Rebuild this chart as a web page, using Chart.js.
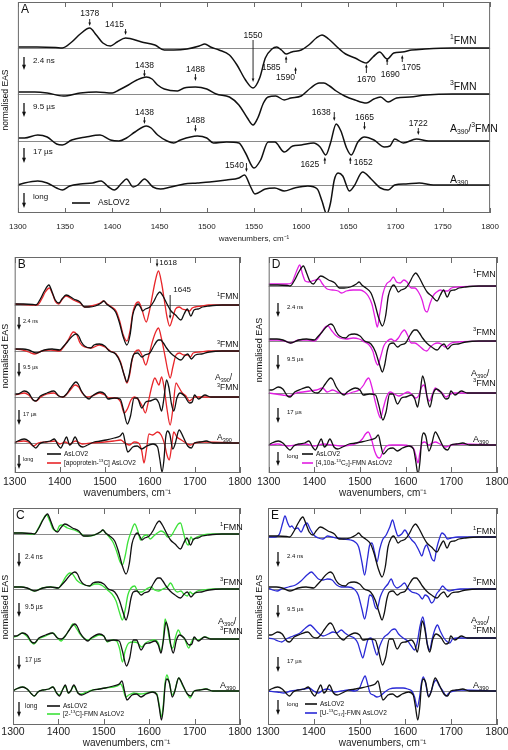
<!DOCTYPE html>
<html>
<head>
<meta charset="utf-8">
<script src="https://cdn.jsdelivr.net/npm/chart.js@4.4.1/dist/chart.umd.min.js"></script>
<style>
  html, body { margin: 0; padding: 0; background: #fff; width: 508px; height: 750px; overflow: hidden; }
  canvas { position: absolute; }
</style>
</head>
<body>
<canvas id="chartA" width="508" height="250" style="left:0;top:0"></canvas>
<canvas id="chartB" width="256" height="255" style="left:0;top:250px"></canvas>
<canvas id="chartD" width="262" height="255" style="left:254px;top:250px"></canvas>
<canvas id="chartC" width="256" height="248" style="left:0;top:502px"></canvas>
<canvas id="chartE" width="262" height="248" style="left:254px;top:502px"></canvas>
<script>
// wavenumber, amplitude pairs (amplitude in arbitrary EAS units)
const stateNames = [["^1", "FMN"], ["^3", "FMN"], ["A", "_390", "/", "^3", "FMN"], ["A", "_390"]];
const lifetimes = ["2.4 ns", "9.5 \u00b5s", "17 \u00b5s", "long"];

// AsLOV2 (black, all panels)
const aslovFmn1 = [[1300,1],[1320,1],[1340,0.5],[1347,0],[1357,6],[1366,14],[1376,20],[1383,13],[1390,5],[1398,2],[1405,6],[1414,10],[1431,6],[1445,3],[1455,-2],[1465,-2],[1479,-1],[1492,2],[1498,4],[1504,1],[1513,-2],[1524,-7],[1532,-17],[1541,-32],[1549,-40],[1556,-30],[1562,-10],[1569,-1],[1574,1],[1579,-2],[1584,-6],[1590,-4],[1600,-2],[1608,3],[1616,10],[1622,13],[1629,9],[1638,1],[1647,-6],[1657,-10],[1669,-15],[1676,-9],[1683,-4],[1691,-11],[1698,-5],[1707,-4],[1717,-2],[1731,-1],[1760,0],[1800,0]];
const aslovFmn3 = [[1300,2],[1318,2],[1331,1],[1348,-2],[1366,1],[1383,2],[1400,1],[1407,4],[1417,9],[1426,14],[1436,17],[1442,15],[1448,9],[1455,5],[1469,3],[1476,6],[1488,7],[1500,5],[1510,0],[1524,-3],[1534,-11],[1543,-24],[1549,-31],[1554,-24],[1560,-9],[1565,-3],[1573,-2],[1582,-6],[1589,-4],[1600,-2],[1610,6],[1619,11],[1624,11],[1630,8],[1637,3],[1646,-2],[1657,-6],[1669,-9],[1677,-5],[1684,-3],[1692,-8],[1701,-4],[1715,-3],[1732,-1],[1760,0],[1800,0]];
const aslovMixed = [[1300,3],[1307,3],[1321,6],[1331,4],[1341,-3],[1347,-4],[1357,1],[1372,4],[1387,6],[1398,1],[1407,0],[1415,3],[1424,9],[1436,15],[1441,13],[1448,6],[1458,0],[1465,-2],[1472,1],[1490,5],[1500,3],[1507,-2],[1521,-1],[1534,-2],[1541,-12],[1550,-27],[1557,-19],[1565,-1],[1572,-1],[1582,-11],[1591,-5],[1600,-4],[1613,-2],[1620,-6],[1626,-14],[1631,-2],[1637,17],[1642,10],[1648,-7],[1653,-14],[1660,-1],[1667,4],[1677,1],[1688,-6],[1694,-5],[1699,2],[1708,-2],[1722,2],[1735,0],[1800,0]];
const aslovA390 = [[1300,0],[1307,2],[1321,4],[1331,2],[1341,-3],[1347,-5],[1355,-1],[1366,1],[1379,2],[1388,4],[1396,-2],[1402,-5],[1410,2],[1415,6],[1422,-2],[1427,0],[1434,6],[1443,-2],[1451,-4],[1462,-2],[1476,1],[1490,2],[1503,3],[1521,5],[1534,7],[1540,10],[1546,-1],[1551,-9],[1562,-4],[1572,-3],[1582,-6],[1593,-3],[1607,-1],[1617,-4],[1622,-16],[1627,-29],[1631,-18],[1635,5],[1639,12],[1644,9],[1651,-6],[1656,-1],[1665,13],[1674,6],[1684,-3],[1692,-5],[1699,0],[1711,1],[1725,2],[1740,0],[1800,0]];

// [apoprotein-13C] AsLOV2 (red, panel B)
const apoFmn1 = [[1300,1],[1340,0],[1350,0],[1360,6],[1368,13],[1377,17],[1384,11],[1391,3],[1398,1],[1406,6],[1414,9],[1430,5],[1445,2],[1455,-2],[1470,-1],[1490,2],[1497,4],[1505,1],[1515,-2],[1525,-6],[1533,-16],[1541,-30],[1549,-36],[1556,-26],[1562,-8],[1570,2],[1575,3],[1582,-4],[1592,-17],[1598,-8],[1605,8],[1612,24],[1619,34],[1626,22],[1633,2],[1638,-12],[1644,-21],[1650,-14],[1657,-4],[1665,-2],[1672,-4],[1680,-5],[1688,-6],[1694,-3],[1700,-2],[1715,-1],[1730,0],[1800,0]];
const apoFmn3 = [[1300,2],[1318,1],[1331,-1],[1345,-3],[1360,0],[1380,1],[1400,0],[1410,5],[1420,12],[1430,19],[1437,17],[1445,8],[1455,4],[1470,3],[1488,6],[1500,4],[1512,0],[1525,-3],[1535,-11],[1543,-24],[1549,-32],[1555,-24],[1561,-8],[1567,-1],[1575,1],[1583,-5],[1591,-14],[1598,-4],[1606,10],[1614,20],[1619,23],[1626,12],[1634,-6],[1640,-20],[1645,-27],[1651,-16],[1658,-4],[1666,-2],[1675,-4],[1684,-4],[1690,-6],[1696,-2],[1710,-1],[1730,0],[1800,0]];
const apoMixed = [[1300,2],[1310,3],[1321,4],[1331,2],[1341,-3],[1348,-4],[1358,0],[1372,3],[1387,4],[1398,1],[1407,0],[1416,3],[1425,8],[1434,12],[1442,10],[1450,4],[1460,0],[1472,1],[1488,4],[1500,2],[1510,-1],[1525,-1],[1535,-5],[1543,-16],[1550,-12],[1558,-3],[1566,0],[1575,-3],[1584,-10],[1590,-16],[1596,-6],[1604,10],[1611,19],[1617,14],[1620,12],[1626,20],[1632,8],[1638,-12],[1645,-28],[1651,-12],[1658,14],[1664,10],[1672,4],[1680,1],[1688,-4],[1694,-2],[1700,0],[1800,0]];
const apoA390 = [[1300,1],[1320,2],[1330,1],[1342,-3],[1352,0],[1370,1],[1390,2],[1400,-1],[1412,1],[1422,-1],[1435,2],[1450,-1],[1470,0],[1500,1],[1520,2],[1535,3],[1545,0],[1555,-2],[1565,1],[1575,0],[1582,-8],[1587,-20],[1592,-8],[1598,9],[1606,8],[1617,11],[1625,8],[1633,-2],[1638,-12],[1643,-17],[1648,-4],[1653,11],[1660,6],[1670,3],[1680,0],[1690,-2],[1700,0],[1720,1],[1800,0]];

// [2-13C]-FMN AsLOV2 (green, panel C)
const c2Fmn1 = [[1300,1],[1320,1],[1340,0],[1347,0],[1356,6],[1365,14],[1374,19],[1381,13],[1388,5],[1396,3],[1402,8],[1408,9],[1420,6],[1435,4],[1448,1],[1458,-2],[1470,-2],[1485,0],[1493,2],[1498,4],[1504,1],[1512,-3],[1520,-8],[1528,-17],[1535,-27],[1541,-31],[1547,-22],[1553,-8],[1560,2],[1568,10],[1575,3],[1581,-6],[1588,-2],[1595,-1],[1602,-5],[1610,-2],[1618,1],[1626,3],[1634,1],[1640,-3],[1648,-2],[1656,4],[1664,10],[1669,11],[1675,2],[1681,-8],[1686,-11],[1692,-3],[1697,-6],[1705,-3],[1718,-1],[1740,0],[1800,0]];
const c2Fmn3 = [[1300,2],[1318,2],[1331,1],[1347,-2],[1365,1],[1383,2],[1400,1],[1407,5],[1416,12],[1425,16],[1431,15],[1440,9],[1448,6],[1458,4],[1470,3],[1480,5],[1488,5],[1498,3],[1508,-1],[1518,-5],[1527,-12],[1535,-24],[1541,-31],[1547,-21],[1553,-6],[1560,1],[1568,3],[1576,-3],[1584,-3],[1594,0],[1604,2],[1612,-1],[1620,-2],[1630,0],[1640,2],[1647,6],[1655,0],[1662,-3],[1670,-2],[1676,-5],[1684,-7],[1690,-3],[1696,-5],[1706,-2],[1720,-1],[1740,0],[1800,0]];
const c2Mixed = [[1300,2],[1310,3],[1320,6],[1330,3],[1340,-3],[1346,-5],[1356,0],[1372,3],[1388,6],[1398,1],[1406,-2],[1415,3],[1424,9],[1432,15],[1438,12],[1446,6],[1456,1],[1466,-1],[1475,1],[1490,4],[1500,3],[1508,-3],[1518,-1],[1528,-2],[1535,-10],[1541,-23],[1547,-12],[1555,-4],[1565,-3],[1575,-4],[1583,-8],[1592,-4],[1600,-2],[1612,-1],[1620,-4],[1626,-12],[1631,0],[1635,20],[1640,12],[1646,-4],[1652,-9],[1658,2],[1664,9],[1670,4],[1678,0],[1687,-9],[1693,-3],[1699,1],[1708,-1],[1722,2],[1740,0],[1800,0]];
const c2A390 = [[1300,0],[1307,2],[1321,4],[1331,2],[1341,-3],[1347,-5],[1355,-1],[1366,1],[1379,2],[1388,4],[1396,-2],[1402,-4],[1410,2],[1415,5],[1422,-2],[1427,0],[1434,5],[1443,-2],[1451,-3],[1462,-1],[1476,1],[1490,2],[1503,3],[1521,4],[1530,5],[1537,7],[1542,3],[1548,-6],[1555,-4],[1566,-2],[1580,-3],[1595,-2],[1607,-1],[1617,-3],[1622,-14],[1627,-26],[1631,-14],[1635,8],[1639,16],[1644,9],[1651,-4],[1656,0],[1665,13],[1674,5],[1684,-3],[1690,-7],[1697,-1],[1711,1],[1725,2],[1740,0],[1800,0]];

// [4,10a-13C2]-FMN AsLOV2 (magenta, panel D)
const c410Fmn1 = [[1300,2],[1320,2],[1340,2],[1350,3],[1357,10],[1363,17],[1368,21],[1374,12],[1380,5],[1388,4],[1395,5],[1402,6],[1410,7],[1418,2],[1428,-3],[1440,-4],[1452,-5],[1460,-7],[1470,-5],[1485,-4],[1500,-4],[1510,-6],[1518,-10],[1526,-18],[1533,-32],[1538,-41],[1543,-28],[1550,-8],[1558,2],[1566,5],[1573,9],[1580,4],[1588,3],[1596,6],[1603,4],[1612,-2],[1620,-2],[1628,-6],[1636,-14],[1642,-24],[1647,-26],[1653,-18],[1660,-10],[1668,-6],[1676,-4],[1684,-5],[1692,-5],[1700,-2],[1715,-1],[1800,0]];
const c410Fmn3 = [[1300,1],[1320,1],[1335,0],[1348,-2],[1365,1],[1385,1],[1400,0],[1408,3],[1416,9],[1424,14],[1430,15],[1437,11],[1446,6],[1456,3],[1470,2],[1485,3],[1498,2],[1510,-1],[1520,-4],[1528,-10],[1534,-20],[1539,-24],[1545,-16],[1552,-5],[1560,0],[1568,2],[1576,0],[1584,3],[1592,9],[1597,11],[1604,6],[1612,-2],[1620,-2],[1630,-5],[1640,-9],[1646,-10],[1654,-6],[1662,-3],[1670,-2],[1678,-3],[1686,-6],[1692,-5],[1700,-2],[1715,-1],[1800,0]];
const c410Mixed = [[1300,0],[1315,-1],[1330,-2],[1345,-3],[1360,0],[1375,1],[1390,2],[1405,3],[1418,5],[1428,1],[1440,3],[1455,0],[1470,-1],[1485,1],[1498,3],[1508,8],[1514,13],[1519,15],[1526,6],[1533,-8],[1540,-20],[1545,-25],[1551,-15],[1558,-4],[1566,1],[1575,-1],[1585,-3],[1595,-1],[1605,1],[1615,-2],[1622,-5],[1628,-3],[1635,6],[1640,8],[1646,-2],[1652,-8],[1658,-2],[1665,5],[1672,2],[1680,0],[1688,-4],[1695,-2],[1705,0],[1800,0]];
const c410A390 = [[1300,0],[1320,1],[1340,-1],[1360,0],[1380,1],[1400,-1],[1420,1],[1440,0],[1460,-1],[1480,0],[1495,2],[1505,6],[1512,11],[1518,13],[1525,6],[1532,-6],[1538,-12],[1543,-13],[1550,-7],[1558,-1],[1570,0],[1590,0],[1610,-1],[1618,-4],[1623,-12],[1627,-18],[1631,-8],[1636,2],[1642,3],[1650,0],[1658,2],[1665,3],[1675,1],[1688,-2],[1700,0],[1720,1],[1800,0]];

// [U-13C17]-FMN AsLOV2 (blue, panel E)
const uFmn1 = [[1300,0],[1315,0],[1325,3],[1332,14],[1337,21],[1343,14],[1348,10],[1352,11],[1358,8],[1365,9],[1372,5],[1380,12],[1385,14],[1392,8],[1400,2],[1410,-1],[1420,-2],[1430,1],[1440,0],[1450,-1],[1465,-2],[1480,-3],[1490,-5],[1498,-10],[1505,-25],[1511,-38],[1517,-22],[1522,-8],[1527,-6],[1533,-16],[1538,-25],[1544,-12],[1550,-3],[1558,2],[1566,10],[1572,17],[1578,8],[1584,1],[1592,3],[1599,7],[1606,2],[1614,-3],[1622,-7],[1630,-14],[1636,-19],[1641,-12],[1646,-8],[1652,-14],[1658,-22],[1663,-24],[1668,-12],[1674,-2],[1680,4],[1686,2],[1692,-2],[1700,-1],[1715,0],[1800,0]];
const uFmn3 = [[1300,1],[1310,-1],[1320,-2],[1330,0],[1345,2],[1360,4],[1372,8],[1385,14],[1395,17],[1402,14],[1410,10],[1420,9],[1430,10],[1440,9],[1450,4],[1460,2],[1475,2],[1488,0],[1497,-6],[1505,-20],[1511,-30],[1517,-18],[1522,-6],[1528,-8],[1534,-18],[1538,-20],[1545,-8],[1553,0],[1562,5],[1569,10],[1575,4],[1582,1],[1590,3],[1598,6],[1605,1],[1614,-3],[1622,-4],[1630,-6],[1637,-10],[1643,-6],[1650,-8],[1657,-14],[1662,-12],[1668,-5],[1675,-1],[1681,3],[1688,0],[1695,-2],[1705,-1],[1720,0],[1800,0]];
const uMixed = [[1300,0],[1312,-1],[1322,-3],[1330,-4],[1340,-1],[1355,2],[1370,5],[1382,10],[1392,13],[1400,10],[1410,5],[1420,2],[1432,4],[1442,6],[1450,5],[1460,8],[1468,5],[1478,2],[1488,0],[1496,-5],[1502,-14],[1507,-20],[1512,-12],[1518,-2],[1525,0],[1532,-10],[1538,-17],[1544,-8],[1552,0],[1562,4],[1570,8],[1577,9],[1585,4],[1595,0],[1605,-3],[1613,-8],[1620,-12],[1626,-4],[1632,12],[1638,21],[1643,10],[1648,-6],[1653,-12],[1658,-2],[1664,8],[1670,13],[1676,7],[1684,0],[1692,-4],[1697,-5],[1703,-1],[1715,0],[1800,0]];
const uA390 = [[1300,0],[1320,-1],[1335,-2],[1350,0],[1365,1],[1380,2],[1390,3],[1400,0],[1410,-2],[1420,1],[1430,2],[1445,-1],[1460,0],[1475,1],[1490,0],[1500,3],[1506,10],[1512,15],[1517,8],[1523,-2],[1530,-4],[1538,-6],[1545,-5],[1555,-1],[1565,2],[1580,3],[1595,3],[1605,2],[1614,0],[1620,-6],[1626,-16],[1631,-6],[1635,8],[1639,14],[1644,8],[1650,-5],[1655,-2],[1662,8],[1667,11],[1674,5],[1682,0],[1689,-5],[1695,-2],[1705,0],[1722,1],[1800,0]];

const aslovSet = [aslovFmn1, aslovFmn3, aslovMixed, aslovA390];

const FONT = "'Liberation Sans', Arial, sans-serif";

// page layout of the five panels
const panels = [
  {
    id: "chartA", letter: "A", canvasLeft: 0, canvasTop: 0, width: 508, height: 250,
    area: [13, 2, 497, 213], axisH: 35, step: 50, tickFont: 8, titleFont: 8, tickPad: 9, titlePadBottom: 4, tickLen: 5,
    baselines: [48, 94, 141, 185],
    series: [], seriesColor: null, legendLabel: null,
    stateLabel: { x: 450, dy: [-7, -7, -12, -5], size: 10.5, twoLine: false },
    yLabel: { x: 6, y: 100, size: 8.5 },
    times: { x: 24, tx: 33, size: 8, arrows: [[57, 70], [103, 117], [148, 163], [193, 208]] },
    legend: { x1: 72, x2: 90, tx: 98, ys: [203], size: 8.5 },
    notes: [
      { t: "1378", wn: 1376, dx: 0, ty: 14, y1: 19, y2: 26 },
      { t: "1415", wn: 1414, dx: -11, ty: 25, y1: 29, y2: 35 },
      { t: "1550", wn: 1549, dx: 0, ty: 36, y1: 40, y2: 82 },
      { t: "1585", wn: 1584, dx: -15, ty: 68, y1: 63, y2: 56 },
      { t: "1590", wn: 1594, dx: -10, ty: 78, y1: 74, y2: 67 },
      { t: "1670", wn: 1669, dx: 0, ty: 80, y1: 73, y2: 64 },
      { t: "1690", wn: 1691, dx: 3, ty: 75, y1: 65, y2: 58 },
      { t: "1705", wn: 1707, dx: 9, ty: 68, y1: 62, y2: 55 },
      { t: "1438", wn: 1434, dx: 0, ty: 66, y1: 70, y2: 77 },
      { t: "1488", wn: 1488, dx: 0, ty: 70, y1: 74, y2: 81 },
      { t: "1438", wn: 1434, dx: 0, ty: 113, y1: 117, y2: 124 },
      { t: "1488", wn: 1488, dx: 0, ty: 121, y1: 125, y2: 132 },
      { t: "1638", wn: 1635, dx: -13, ty: 113, y1: 112, y2: 121 },
      { t: "1665", wn: 1667, dx: 0, ty: 118, y1: 122, y2: 130 },
      { t: "1722", wn: 1724, dx: 0, ty: 124, y1: 128, y2: 135 },
      { t: "1540", wn: 1542, dx: -12, ty: 166, y1: 163, y2: 172 },
      { t: "1625", wn: 1625, dx: -15, ty: 165, y1: 164, y2: 157 },
      { t: "1652", wn: 1652, dx: 13, ty: 163, y1: 164, y2: 157 }
    ],
    noteSize: 8.5
  },
  {
    id: "chartB", letter: "B", canvasLeft: 0, canvasTop: 250, width: 256, height: 255,
    area: [13, 257, 240, 473], axisH: 30, step: 100, tickFont: 10.5, titleFont: 10, tickPad: 3, titlePadBottom: 4, tickLen: 6,
    baselines: [305, 351, 397, 443],
    series: [apoFmn1, apoFmn3, apoMixed, apoA390], seriesColor: "#e8262a",
    legendLabel: ["[apoprotein-", "^13", "C] AsLOV2"],
    stateLabel: { x: 217, dy: [-8, -6, -14, -5], size: 8.5, twoLine: true },
    yLabel: { x: 6, y: 356, size: 9 },
    times: { x: 19, tx: 23, size: 5.5, arrows: [[317, 330], [363, 377], [410, 425], [455, 469]] },
    legend: { x1: 47, x2: 61, tx: 64, ys: [454, 463], size: 6.5 },
    notes: [
      { t: "1618", wn: 1616, dx: 11, ty: 263, y1: 259, y2: 267 },
      { t: "1645", wn: 1645, dx: 12, ty: 290, y1: 295, y2: 319 }
    ],
    noteSize: 8
  },
  {
    id: "chartD", letter: "D", canvasLeft: 254, canvasTop: 250, width: 262, height: 255,
    area: [268, 257, 497, 473], axisH: 30, step: 100, tickFont: 10.5, titleFont: 10, tickPad: 3, titlePadBottom: 4, tickLen: 6,
    baselines: [286, 341, 393, 445],
    series: [c410Fmn1, c410Fmn3, c410Mixed, c410A390], seriesColor: "#e21ee2",
    legendLabel: ["[4,10a-", "^13", "C", "_2", "]-FMN AsLOV2"],
    stateLabel: { x: 473, dy: [-11, -8, -14, -5], size: 9, twoLine: true },
    yLabel: { x: 260, y: 350, size: 9 },
    times: { x: 278, tx: 287, size: 6, arrows: [[303, 317], [355, 370], [408, 423], [452, 466]] },
    legend: { x1: 302, x2: 313, tx: 316, ys: [454, 463], size: 6.5 },
    notes: [], noteSize: 8
  },
  {
    id: "chartC", letter: "C", canvasLeft: 0, canvasTop: 502, width: 256, height: 248,
    area: [13, 508, 240, 725], axisH: 25, step: 100, tickFont: 10.5, titleFont: 10, tickPad: 1, titlePadBottom: 1, tickLen: 6,
    baselines: [534, 589, 639, 691],
    series: [c2Fmn1, c2Fmn3, c2Mixed, c2A390], seriesColor: "#3de23a",
    legendLabel: ["[2-", "^13", "C]-FMN AsLOV2"],
    stateLabel: { x: 220, dy: [-6, -6, -12, -5], size: 9, twoLine: true },
    yLabel: { x: 6, y: 607, size: 9 },
    times: { x: 19, tx: 25, size: 6.5, arrows: [[553, 567], [603, 617], [656, 670], [702, 717]] },
    legend: { x1: 47, x2: 60, tx: 63, ys: [706, 714], size: 6.5 },
    notes: [], noteSize: 8
  },
  {
    id: "chartE", letter: "E", canvasLeft: 254, canvasTop: 502, width: 262, height: 248,
    area: [268, 508, 497, 725], axisH: 25, step: 100, tickFont: 10.5, titleFont: 10, tickPad: 1, titlePadBottom: 1, tickLen: 6,
    baselines: [537, 589, 638, 691],
    series: [uFmn1, uFmn3, uMixed, uA390], seriesColor: "#2a2ad6",
    legendLabel: ["[U-", "^13", "C", "_17", "]-FMN AsLOV2"],
    stateLabel: { x: 473, dy: [-5, -6, -12, -5], size: 9, twoLine: true },
    yLabel: { x: 260, y: 607, size: 9 },
    times: { x: 278, tx: 287, size: 6, arrows: [[552, 567], [605, 618], [657, 672], [700, 715]] },
    legend: { x1: 305, x2: 317, tx: 320, ys: [704, 713], size: 6.5 },
    notes: [], noteSize: 8
  }
];

// text with ^sup and _sub parts
function drawRich(ctx, parts, x, y, size, color) {
  ctx.fillStyle = color || "#111";
  ctx.textBaseline = "middle";
  ctx.textAlign = "left";
  let cx = x;
  parts.forEach((p) => {
    let s = size, dy = 0, txt = p;
    if (p[0] === "^") { s = size * 0.65; dy = -size * 0.35; txt = p.slice(1); }
    else if (p[0] === "_") { s = size * 0.65; dy = size * 0.3; txt = p.slice(1); }
    ctx.font = s + "px " + FONT;
    ctx.fillText(txt, cx, y + dy);
    cx += ctx.measureText(txt).width;
  });
}

function drawArrow(ctx, x, y1, y2, head, lw) {
  const d = Math.sign(y2 - y1);
  ctx.lineWidth = lw;
  ctx.beginPath();
  ctx.moveTo(x, y1);
  ctx.lineTo(x, y2 - d * head);
  ctx.stroke();
  ctx.beginPath();
  ctx.moveTo(x, y2);
  ctx.lineTo(x - head * 0.5, y2 - d * head * 1.3);
  ctx.lineTo(x + head * 0.5, y2 - d * head * 1.3);
  ctx.closePath();
  ctx.fill();
}

const panelDecor = {
  id: "panelDecor",
  beforeDatasetsDraw(chart, args, p) {
    const { ctx, chartArea: a, scales: { y } } = chart;
    ctx.save();
    ctx.strokeStyle = "#8a8a8a";
    ctx.lineWidth = 1;
    p.baselines.forEach((b) => {
      const py = Math.round(y.getPixelForValue(-(b - p.area[1]))) + 0.5;
      ctx.beginPath();
      ctx.moveTo(a.left, py);
      ctx.lineTo(a.right, py);
      ctx.stroke();
    });
    ctx.restore();
  },
  afterDraw(chart, args, p) {
    const { ctx, chartArea: a, scales: { x } } = chart;
    const ox = p.canvasLeft, oy = p.canvasTop;
    ctx.save();
    // frame and inward ticks
    ctx.strokeStyle = "#6a6a6a";
    ctx.lineWidth = 1;
    ctx.strokeRect(a.left + 0.5, a.top + 0.5, a.right - a.left - 1, a.bottom - a.top - 1);
    x.ticks.forEach((t) => {
      const px = Math.round(x.getPixelForValue(t.value)) + 0.5;
      ctx.beginPath();
      ctx.moveTo(px, a.top); ctx.lineTo(px, a.top + p.tickLen);
      ctx.moveTo(px, a.bottom); ctx.lineTo(px, a.bottom - p.tickLen);
      ctx.stroke();
    });

    // panel letter
    ctx.fillStyle = "#111";
    ctx.font = "12px " + FONT;
    ctx.textBaseline = "middle";
    ctx.fillText(p.letter, a.left + 3, a.top + 8);

    // y-axis title
    ctx.save();
    ctx.translate(p.yLabel.x - ox, p.yLabel.y - oy);
    ctx.rotate(-Math.PI / 2);
    ctx.textAlign = "center";
    ctx.font = p.yLabel.size + "px " + FONT;
    ctx.fillText("normalised EAS", 0, 0);
    ctx.restore();

    // state labels at the right
    const sl = p.stateLabel;
    p.baselines.forEach((b, i) => {
      const ly = b + sl.dy[i] - oy;
      const lx = sl.x - ox;
      if (i === 2 && sl.twoLine) {
        drawRich(ctx, ["A", "_390", "/"], lx - 2, ly - 5, sl.size);
        drawRich(ctx, ["^3", "FMN"], lx, ly + 5, sl.size);
      } else {
        drawRich(ctx, stateNames[i], lx, ly, sl.size);
      }
    });

    // lifetime arrows
    ctx.fillStyle = "#111";
    ctx.strokeStyle = "#111";
    p.times.arrows.forEach((ar, i) => {
      drawArrow(ctx, p.times.x - ox, ar[0] - oy, ar[1] - oy, 4, 1.3);
      ctx.font = p.times.size + "px " + FONT;
      ctx.textAlign = "left";
      ctx.textBaseline = "middle";
      ctx.fillText(lifetimes[i], p.times.tx - ox, ar[0] + 4 - oy);
    });

    // legend
    const lg = p.legend;
    const entries = [{ c: "#111", parts: ["AsLOV2"] }];
    if (p.seriesColor) entries.push({ c: p.seriesColor, parts: p.legendLabel });
    entries.forEach((e, i) => {
      const ly = lg.ys[i] - oy;
      ctx.strokeStyle = e.c;
      ctx.lineWidth = 1.6;
      ctx.beginPath();
      ctx.moveTo(lg.x1 - ox, ly); ctx.lineTo(lg.x2 - ox, ly);
      ctx.stroke();
      drawRich(ctx, e.parts, lg.tx - ox, ly, lg.size);
    });

    // peak annotations
    ctx.strokeStyle = "#111";
    ctx.fillStyle = "#111";
    p.notes.forEach((n) => {
      const px = x.getPixelForValue(n.wn);
      drawArrow(ctx, px, n.y1 - oy, n.y2 - oy, 2.6, 0.9);
      ctx.font = p.noteSize + "px " + FONT;
      ctx.textAlign = "center";
      ctx.textBaseline = "middle";
      ctx.fillText(n.t, px + n.dx, n.ty - oy);
    });
    ctx.restore();
  }
};

function buildDatasets(p) {
  const h = p.area[3] - p.area[1];
  const sets = [];
  p.baselines.forEach((b, i) => {
    const off = b - p.area[1];
    sets.push({
      data: aslovSet[i].map(([wn, v]) => ({ x: wn, y: v - off })),
      borderColor: "#111", borderWidth: p.seriesColor ? 1.3 : 1.5
    });
  });
  if (p.seriesColor) {
    p.baselines.forEach((b, i) => {
      const off = b - p.area[1];
      sets.push({
        data: p.series[i].map(([wn, v]) => ({ x: wn, y: v - off })),
        borderColor: p.seriesColor, borderWidth: 1.3
      });
    });
  }
  return { sets, h };
}

panels.forEach((p) => {
  const { sets, h } = buildDatasets(p);
  const padLeft = p.area[0] - p.canvasLeft;
  const padRight = p.canvasLeft + p.width - p.area[2];
  const padTop = p.area[1] - p.canvasTop;
  const padBottom = p.canvasTop + p.height - p.area[3] - p.axisH;
  new Chart(document.getElementById(p.id).getContext("2d"), {
    type: "line",
    data: {
      datasets: sets.map((s) => ({
        data: s.data,
        borderColor: s.borderColor,
        borderWidth: s.borderWidth,
        pointRadius: 0,
        fill: false,
        cubicInterpolationMode: "monotone"
      }))
    },
    options: {
      responsive: false,
      animation: false,
      devicePixelRatio: 1,
      layout: { padding: { left: padLeft, right: padRight, top: padTop, bottom: padBottom } },
      plugins: { legend: { display: false }, tooltip: { enabled: false }, panelDecor: p },
      scales: {
        x: {
          type: "linear", min: 1300, max: 1800,
          ticks: {
            stepSize: p.step, autoSkip: false, maxRotation: 0, padding: p.tickPad, color: "#222",
            font: { family: FONT, size: p.tickFont },
            callback: (v) => String(v)
          },
          grid: { display: false, drawTicks: false },
          border: { display: false },
          title: { display: true, text: "wavenumbers, cm\u207b\u00b9", color: "#222", font: { family: FONT, size: p.titleFont }, padding: { top: 0, bottom: p.titlePadBottom } },
          afterFit(scale) { scale.height = p.axisH; }
        },
        y: { display: false, min: -h, max: 0 }
      }
    },
    plugins: [panelDecor]
  });
});
</script>
</body>
</html>
